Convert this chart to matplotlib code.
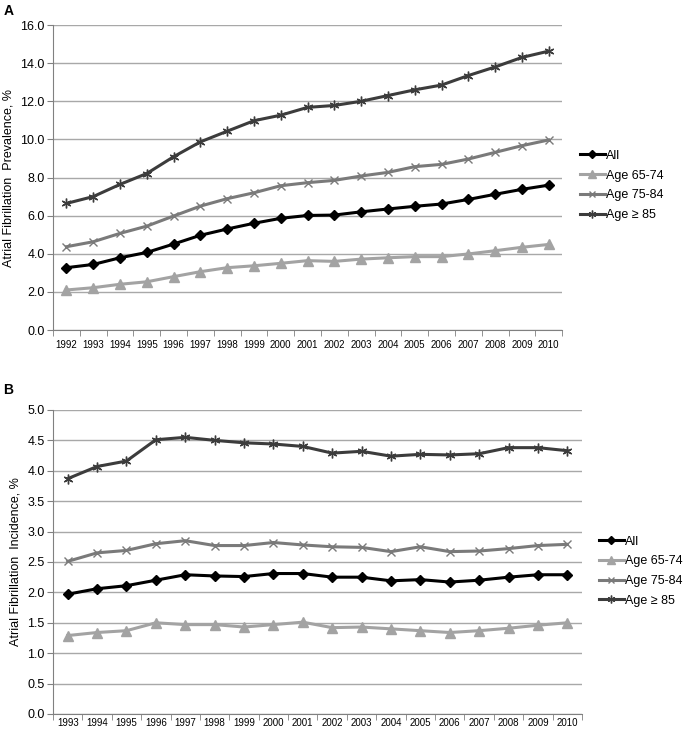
import matplotlib.pyplot as plt
import numpy as np

plt.rcParams['font.family'] = ['Liberation Sans', 'DejaVu Sans']

# panel A - prevalence
years_a = list(range(1992, 2011))
prev_all = [3.27, 3.44, 3.79, 4.07, 4.51, 4.97, 5.30, 5.60, 5.86, 6.01, 6.03, 6.20, 6.35, 6.49, 6.61, 6.85, 7.12, 7.38, 7.60]
prev_6574 = [2.10, 2.22, 2.40, 2.53, 2.80, 3.06, 3.27, 3.37, 3.50, 3.64, 3.60, 3.72, 3.79, 3.85, 3.85, 3.99, 4.16, 4.34, 4.49]
prev_7584 = [4.37, 4.63, 5.07, 5.45, 5.98, 6.50, 6.89, 7.20, 7.57, 7.73, 7.85, 8.08, 8.27, 8.57, 8.69, 8.97, 9.32, 9.67, 9.97]
prev_85 = [6.64, 7.00, 7.64, 8.21, 9.09, 9.87, 10.43, 10.98, 11.27, 11.68, 11.78, 12.00, 12.30, 12.60, 12.85, 13.35, 13.80, 14.30, 14.63]

# panel B - incidence
years_b = list(range(1993, 2011))
inc_all = [1.97, 2.06, 2.11, 2.20, 2.29, 2.27, 2.26, 2.31, 2.31, 2.25, 2.25, 2.19, 2.21, 2.17, 2.20, 2.25, 2.29, 2.29]
inc_6574 = [1.29, 1.34, 1.37, 1.50, 1.47, 1.47, 1.43, 1.47, 1.51, 1.42, 1.43, 1.40, 1.37, 1.34, 1.37, 1.41, 1.46, 1.50]
inc_7584 = [2.51, 2.65, 2.69, 2.80, 2.85, 2.77, 2.77, 2.82, 2.78, 2.75, 2.74, 2.67, 2.75, 2.67, 2.68, 2.72, 2.77, 2.79]
inc_85 = [3.87, 4.07, 4.16, 4.51, 4.55, 4.50, 4.46, 4.44, 4.40, 4.29, 4.32, 4.24, 4.27, 4.26, 4.28, 4.38, 4.38, 4.33]

labels = ['All', 'Age 65-74', 'Age 75-84', 'Age \u2265 85']
styles = [
    dict(color='black', marker='D', markersize=5),
    dict(color='#a3a3a3', marker='^', markersize=6.5),
    dict(color='#7a7a7a', marker='x', markersize=6, markeredgewidth=1.0),
    dict(color='#3c3c3c', marker=(6, 2, 0), markersize=7, markeredgewidth=1.0),
]

fig = plt.figure(figsize=(6.83, 7.36), dpi=100)
ax_a = fig.add_axes([0.0776, 0.5516, 0.7454, 0.4144])
ax_b = fig.add_axes([0.0776, 0.0299, 0.7745, 0.4131])


def draw(ax, years, series, ymax, ystep, ylabel, xpad):
    x = np.arange(len(years))
    for s, lab, st in zip(series, labels, styles):
        ax.plot(x, s, lw=2.2, label=lab, **st)
    ax.set_xlim(-0.5, len(years) - 0.5)
    ax.set_ylim(0, ymax)
    ax.set_yticks(np.arange(0, ymax + ystep / 2, ystep))
    ax.yaxis.set_major_formatter(plt.FormatStrFormatter('%.1f'))
    ax.set_xticks(x)
    ax.set_xticklabels([str(y) for y in years], fontsize=7)
    ax.set_xticks(np.arange(-0.5, len(years)), minor=True)
    ax.tick_params(axis='x', which='major', length=0, pad=xpad)
    ax.tick_params(axis='x', which='minor', length=4, color='#808080', direction='out')
    ax.tick_params(axis='y', length=4, color='#808080', labelsize=9, pad=2)
    ax.grid(axis='y', color='#a8a8a8', lw=1.0)
    ax.set_axisbelow(True)
    for sp in ['top', 'right']:
        ax.spines[sp].set_visible(False)
    for sp in ['left', 'bottom']:
        ax.spines[sp].set_color('#808080')
    ax.set_ylabel(ylabel, fontsize=9, labelpad=4)


draw(ax_a, years_a, [prev_all, prev_6574, prev_7584, prev_85], 16.0, 2.0,
     'Atrial Fibrillation  Prevalence, %', 7)
draw(ax_b, years_b, [inc_all, inc_6574, inc_7584, inc_85], 5.0, 0.5,
     'Atrial Fibrillation  Incidence, %', 3)

for ax, xy in [(ax_a, (0.849, 0.748)), (ax_b, (0.877, 0.224))]:
    ax.legend(loc='center left', bbox_to_anchor=xy, bbox_transform=fig.transFigure,
              frameon=False, fontsize=9, handlelength=2.0, handletextpad=0.1,
              labelspacing=0.62, markerscale=0.8, borderaxespad=0, borderpad=0)

fig.text(0.005, 0.995, 'A', fontsize=10, fontweight='bold', va='top')
fig.text(0.005, 0.479, 'B', fontsize=10, fontweight='bold', va='top')

fig.savefig('out.png', dpi=100)
